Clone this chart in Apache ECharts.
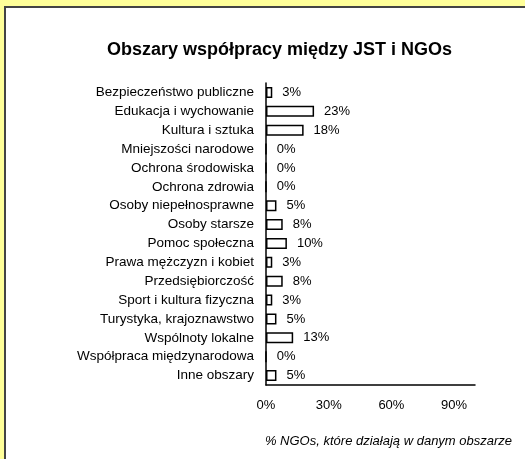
<!DOCTYPE html>
<html><head><meta charset="utf-8">
<script src="https://cdn.jsdelivr.net/npm/echarts@6/dist/echarts.min.js"></script>
<style>
html,body{margin:0;padding:0;background:#ffff99;width:525px;height:459px;overflow:hidden;}
#panel{position:absolute;left:4px;top:6px;width:530px;height:470px;background:#fff;border-left:2px solid #444;border-top:2px solid #444;box-sizing:border-box;}
#chart{position:absolute;left:0;top:0;width:525px;height:459px;}
</style></head>
<body>
<div id="panel"></div>
<div id="chart"></div>
<script>
const categories = ["Bezpieczeństwo publiczne","Edukacja i wychowanie","Kultura i sztuka","Mniejszości narodowe","Ochrona środowiska","Ochrona zdrowia","Osoby niepełnosprawne","Osoby starsze","Pomoc społeczna","Prawa mężczyzn i kobiet","Przedsiębiorczość","Sport i kultura fizyczna","Turystyka, krajoznawstwo","Wspólnoty lokalne","Współpraca międzynarodowa","Inne obszary"];
const values = [3,23,18,0,0,0,5,8,10,3,8,3,5,13,0,5];
const xTicks = [0,30,60,90];
const title = "Obszary współpracy między JST i NGOs";
const xName = "% NGOs, które działają w danym obszarze";

const chart = echarts.init(document.getElementById('chart'), null, {renderer:'canvas'});
const font = 'Liberation Sans, Arial, sans-serif';
chart.setOption({
  backgroundColor: 'transparent',
  animation: false,
  title: {text: title, left: 102, top: 36,
    textStyle: {fontFamily: font, fontWeight: 'bold', fontSize: 18, color: '#000'}},
  grid: {left: 266, right: 50, top: 83, bottom: 74},
  xAxis: {type: 'value', min: 0, max: 100, interval: 30,
    axisLine: {show: true, lineStyle: {color: '#000', width: 1.5}},
    axisTick: {show: false}, splitLine: {show: false},
    axisLabel: {fontFamily: font, fontSize: 13, color: '#000', margin: 14,
      formatter: v => xTicks.includes(v) ? v + '%' : ''},
    name: xName, nameLocation: 'middle', nameGap: 50,
    nameTextStyle: {fontFamily: font, fontSize: 13, fontStyle: 'italic', color: '#000', padding:[0,0,0,36]}
  },
  yAxis: {type: 'category', data: categories, inverse: true,
    axisLine: {show: true, lineStyle: {color: '#000', width: 1.5}},
    axisTick: {show: false},
    axisLabel: {fontFamily: font, fontSize: 13.5, color: '#000', margin: 12}
  },
  series: [{type: 'bar', data: values, barWidth: 11,
    itemStyle: {color: '#fff', borderColor: '#000', borderWidth: 1.5},
    label: {show: true, position: 'right', distance: 10, formatter: p => p.value + '%',
      fontFamily: font, fontSize: 13, color: '#000'}
  }]
});
</script>
</body></html>
